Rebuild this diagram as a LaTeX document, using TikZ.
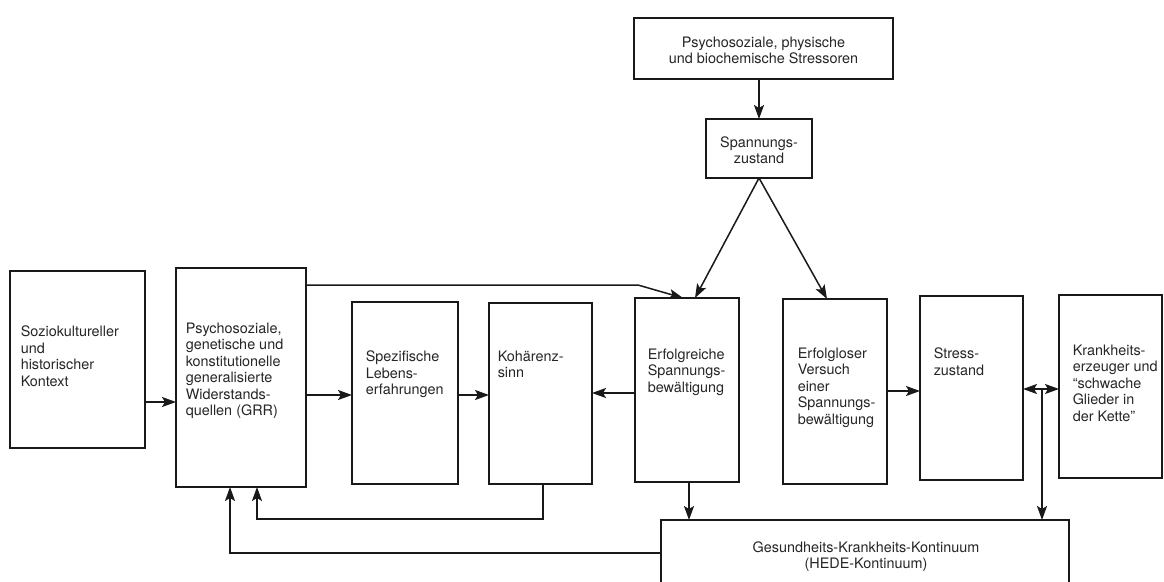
\documentclass[tikz,border=0pt]{standalone}
\usepackage{fontspec}
\setmainfont{TeX Gyre Heros}
\usetikzlibrary{arrows.meta,fit}
\begin{document}
\begin{tikzpicture}[x=1pt,y=-1pt,line width=1.5pt,
  box/.style={draw=black!90,inner sep=0pt,outer sep=0pt},
  txt/.style={inner sep=0pt,anchor=north west,align=left,text=black!85,
    font=\fontsize{14.4}{16.5}\selectfont},
  ctxt/.style={inner sep=0pt,align=center,text=black!85,
    font=\fontsize{14.4}{16}\selectfont},
  tip/.tip={Stealth[length=14pt,width=10pt,inset=3pt]},
  arr/.style={draw=black!90,-tip},
  darr/.style={draw=black!90,tip-tip}]
\useasboundingbox (0,0) rectangle (1164,581);
\fill[white] (0,0) rectangle (1164,581);

% boxes
\node[box,fit={(634,18)(893,79)}] (stre) {};
\node[ctxt] (stretext) at (763.5,50) {Psychosoziale, physische\\und biochemische Stressoren};
\node[box,fit={(706,119)(812,178)}] (span) {};
\node[ctxt] (spantext) at (759,150) {Spannungs-\\zustand};

\node[box,fit={(10,271)(145,448)}] (soz) {};
\node[txt] (soztext) at (20,325) {Soziokultureller\\und\\historischer\\Kontext};
\node[box,fit={(176,268)(306,487)}] (grr) {};
\node[txt] (grrtext) at (185,322) {Psychosoziale,\\genetische und\\konstitutionelle\\generalisierte\\Widerstands-\\quellen (GRR)};
\node[box,fit={(352,302)(458,484)}] (spez) {};
\node[txt] (speztext) at (365,350) {Spezifische\\Lebens-\\erfahrungen};
\node[box,fit={(489,303)(592,484)}] (koh) {};
\node[txt] (kohtext) at (497,350) {Kohärenz-\\sinn};
\node[box,fit={(635,298)(739,482)}] (erf) {};
\node[txt] (erftext) at (647,348) {Erfolgreiche\\Spannungs-\\bewältigung};
\node[box,fit={(783,299)(887,484)}] (erl) {};
\node[txt] (erltext) at (797,347) {Erfolgloser\\Versuch\\einer\\Spannungs-\\bewältigung};
\node[box,fit={(920,296)(1023,480)}] (str) {};
\node[txt] (strtext) at (933,347) {Stress-\\zustand};
\node[box,fit={(1059,295)(1162,478)}] (kra) {};
\node[txt] (kratext) at (1072,344) {Krankheits-\\erzeuger und\\“schwache\\Glieder in\\der Kette”};
\node[box,fit={(661,520)(1069,585)}] (ges) {};
\node[ctxt] (gestext) at (866,557) {Gesundheits-Krankheits-Kontinuum\\(HEDE-Kontinuum)};

% helper coordinates
\coordinate (bend) at (638,285);
\coordinate (jn) at (1042,389);
\coordinate (c1) at (543,519);
\coordinate (c2) at (257,519);
\coordinate (c3) at (230,553);

% connectors
\draw[arr] (span.north |- stre.south) -- (span.north);
\draw[arr] (span.south) -- ([xshift=8pt]erf.north);
\draw[arr] (span.south) -- ([xshift=-8pt]erl.north);
\draw[arr] (grr.east |- bend) -- (bend) -- ([xshift=-4pt]erf.north);
\draw[arr] (soz.east |- 0,402) -- (grr.west |- 0,402);
\draw[arr] (grr.east |- 0,395) -- (spez.west |- 0,395);
\draw[arr] (spez.east |- 0,395) -- (koh.west |- 0,395);
\draw[arr] (erf.west |- 0,393) -- (koh.east |- 0,393);
\draw[arr] (erl.east |- 0,391) -- (str.west |- 0,391);
\draw[darr] (str.east |- jn) -- (kra.west |- jn);
\draw[arr] (jn) -- (jn |- ges.north);
\draw[arr] ([xshift=2pt]erf.south) -- ([xshift=2pt]erf.south |- ges.north);
\draw[arr] (koh.south -| c1) -- (c1) -- (c2) -- (c2 |- grr.south);
\draw[arr] (ges.west |- c3) -- (c3) -- (c3 |- grr.south);
\end{tikzpicture}
\end{document}
